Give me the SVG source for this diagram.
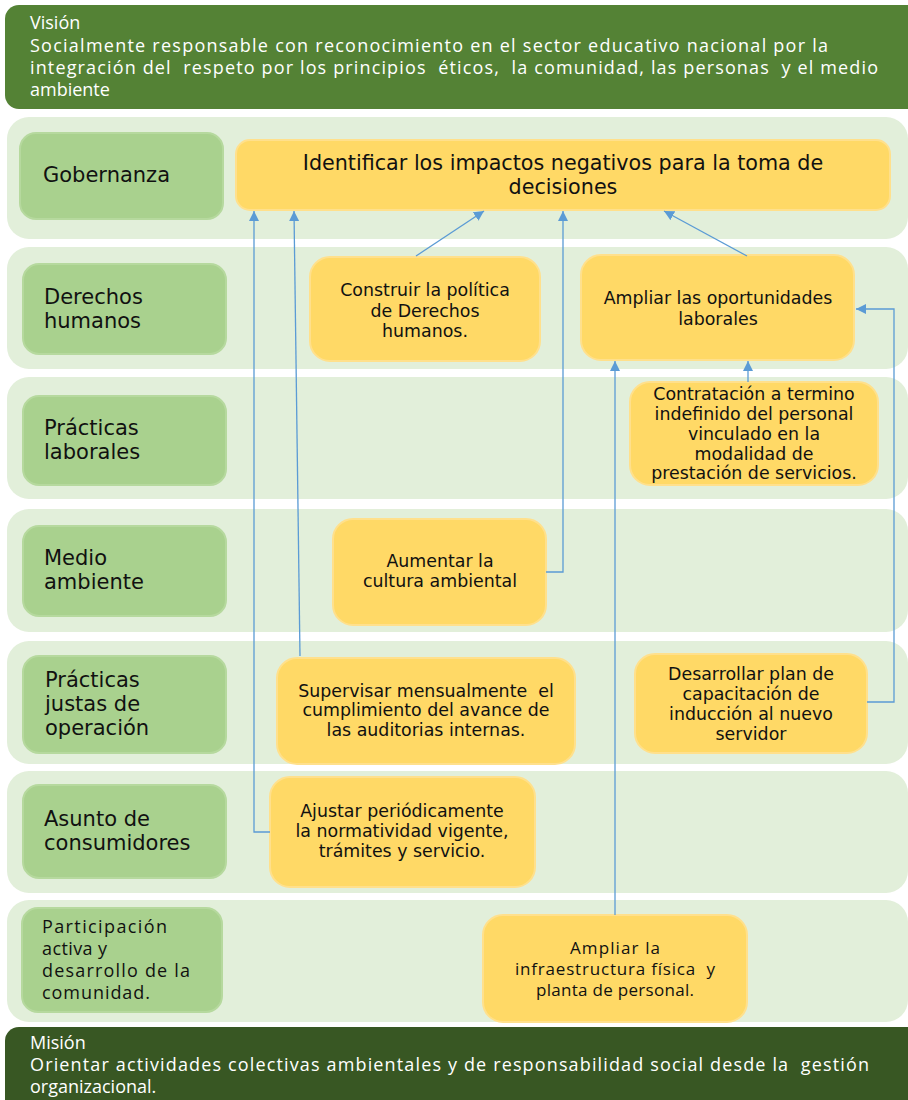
<svg xmlns="http://www.w3.org/2000/svg" width="908" height="1100" viewBox="0 0 908 1100">
<defs>
<style>
.row{fill:#E2EFDA}
.lab{fill:#A9D18E;stroke:#B6D99E;stroke-width:2}
.box{fill:#FFD966;stroke:#FFE08C;stroke-width:2}
.lt{font-family:"DejaVu Sans",Verdana,sans-serif;font-size:21px;fill:#111}
.bt{font-family:"DejaVu Sans",Verdana,sans-serif;font-size:17.4px;fill:#111;text-anchor:middle}
.ct{font-family:"Open Sans","Liberation Sans",sans-serif;font-size:18px;fill:#111}
.ban{font-family:"Open Sans","Liberation Sans",sans-serif;font-size:18px;fill:#fff}
.con{fill:none;stroke:#5B9BD5;stroke-width:1.3}
</style>
<marker id="ah" viewBox="0 0 10 10" refX="10" refY="5" markerUnits="userSpaceOnUse" markerWidth="10" markerHeight="10" orient="auto">
<path d="M0,0 L10,5 L0,10 z" fill="#5B9BD5"/>
</marker>
</defs>
<rect width="908" height="1100" fill="#fff"/>

<g id="vision">
<rect x="5" y="5" width="920" height="104" rx="14" fill="#548235"/>
<text class="ban" x="30" y="29">Visión</text>
<text class="ban" x="30" y="52" textLength="798" xml:space="preserve">Socialmente responsable con reconocimiento en el sector educativo nacional por la</text>
<text class="ban" x="30" y="74" textLength="848" xml:space="preserve">integración del  respeto por los principios  éticos,  la comunidad, las personas  y el medio</text>
<text class="ban" x="30" y="96">ambiente</text>
</g>

<g id="rows">
<rect class="row" x="7" y="117" width="901" height="122" rx="22"/>
<rect class="row" x="7" y="247" width="901" height="122" rx="22"/>
<rect class="row" x="7" y="377" width="901" height="122" rx="22"/>
<rect class="row" x="7" y="509" width="901" height="123" rx="22"/>
<rect class="row" x="7" y="641" width="901" height="123" rx="22"/>
<rect class="row" x="7" y="771" width="901" height="122" rx="22"/>
<rect class="row" x="7" y="900" width="901" height="122" rx="22"/>
</g>

<g id="lab-gobernanza">
<rect class="lab" x="20" y="133" width="203" height="86" rx="16"/>
<text class="lt" x="43" y="182">Gobernanza</text>
</g>
<g id="lab-derechos">
<rect class="lab" x="23" y="264" width="203" height="90" rx="16"/>
<text class="lt" x="44" y="304">Derechos</text>
<text class="lt" x="44" y="328">humanos</text>
</g>
<g id="lab-laborales">
<rect class="lab" x="23" y="396" width="203" height="89" rx="16"/>
<text class="lt" x="44" y="435">Prácticas</text>
<text class="lt" x="44" y="459">laborales</text>
</g>
<g id="lab-ambiente">
<rect class="lab" x="23" y="526" width="203" height="90" rx="16"/>
<text class="lt" x="44" y="565">Medio</text>
<text class="lt" x="44" y="589">ambiente</text>
</g>
<g id="lab-justas">
<rect class="lab" x="23" y="656" width="203" height="97" rx="16"/>
<text class="lt" x="45" y="687">Prácticas</text>
<text class="lt" x="45" y="711">justas de</text>
<text class="lt" x="45" y="735">operación</text>
</g>
<g id="lab-consumidores">
<rect class="lab" x="23" y="785" width="203" height="93" rx="16"/>
<text class="lt" x="44" y="826">Asunto de</text>
<text class="lt" x="44" y="850">consumidores</text>
</g>
<g id="lab-comunidad">
<rect class="lab" x="22" y="908" width="200" height="104" rx="16"/>
<text class="ct" x="42" y="933" textLength="125">Participación</text>
<text class="ct" x="42" y="955" textLength="65">activa y</text>
<text class="ct" x="42" y="977" textLength="148" xml:space="preserve">desarrollo de la</text>
<text class="ct" x="42" y="999" textLength="108">comunidad.</text>
</g>

<g id="n-identificar">
<rect class="box" x="236" y="140" width="654" height="70" rx="14"/>
<text class="bt" x="563" y="170" style="font-size:20.7px">Identificar los impactos negativos para la toma de</text>
<text class="bt" x="563" y="194" style="font-size:20.7px">decisiones</text>
</g>
<g id="n-construir">
<rect class="box" x="310" y="257" width="230" height="104" rx="20"/>
<text class="bt" x="425" y="296">Construir la política</text>
<text class="bt" x="425" y="317">de Derechos</text>
<text class="bt" x="425" y="337">humanos.</text>
</g>
<g id="n-oportunidades">
<rect class="box" x="581" y="255" width="273" height="105" rx="20"/>
<text class="bt" x="718" y="304">Ampliar las oportunidades</text>
<text class="bt" x="718" y="325">laborales</text>
</g>
<g id="n-contratacion">
<rect class="box" x="630" y="382" width="248" height="103" rx="20"/>
<text class="bt" x="754" y="400">Contratación a termino</text>
<text class="bt" x="754" y="420">indefinido del personal</text>
<text class="bt" x="754" y="440">vinculado en la</text>
<text class="bt" x="754" y="460">modalidad de</text>
<text class="bt" x="754" y="479">prestación de servicios.</text>
</g>
<g id="n-aumentar">
<rect class="box" x="333" y="519" width="213" height="106" rx="20"/>
<text class="bt" x="440" y="567">Aumentar la</text>
<text class="bt" x="440" y="587">cultura ambiental</text>
</g>
<g id="n-supervisar">
<rect class="box" x="277" y="658" width="298" height="106" rx="20"/>
<text class="bt" x="426" y="697" xml:space="preserve">Supervisar mensualmente  el</text>
<text class="bt" x="426" y="716">cumplimiento del avance de</text>
<text class="bt" x="426" y="736">las auditorias internas.</text>
</g>
<g id="n-desarrollar">
<rect class="box" x="635" y="654" width="232" height="99" rx="20"/>
<text class="bt" x="751" y="680">Desarrollar plan de</text>
<text class="bt" x="751" y="700">capacitación de</text>
<text class="bt" x="751" y="720">inducción al nuevo</text>
<text class="bt" x="751" y="740">servidor</text>
</g>
<g id="n-ajustar">
<rect class="box" x="270" y="777" width="265" height="110" rx="20"/>
<text class="bt" x="402" y="817">Ajustar periódicamente</text>
<text class="bt" x="402" y="837">la normatividad vigente,</text>
<text class="bt" x="402" y="857">trámites y servicio.</text>
</g>
<g id="n-infraestructura">
<rect class="box" x="483" y="915" width="264" height="107" rx="20"/>
<text class="ct" x="615" y="954" text-anchor="middle" style="font-size:17px" textLength="90">Ampliar la</text>
<text class="ct" x="615" y="975" text-anchor="middle" style="font-size:17px" textLength="200" xml:space="preserve">infraestructura física  y</text>
<text class="ct" x="615" y="996" text-anchor="middle" style="font-size:17px" textLength="158">planta de personal.</text>
</g>

<g id="connectors">
<path class="con" d="M270,832 H254 V211" marker-end="url(#ah)"/>
<path class="con" d="M300,656 L294,211" marker-end="url(#ah)"/>
<path class="con" d="M416,256 L484,211" marker-end="url(#ah)"/>
<path class="con" d="M546,572 H563 V211" marker-end="url(#ah)"/>
<path class="con" d="M747,256 L664,211" marker-end="url(#ah)"/>
<path class="con" d="M748,382 V361" marker-end="url(#ah)"/>
<path class="con" d="M867,702 H894 V309 H856" marker-end="url(#ah)"/>
<path class="con" d="M615,915 V361" marker-end="url(#ah)"/>
</g>

<g id="mision">
<rect x="5" y="1027" width="920" height="100" rx="14" fill="#385723"/>
<text class="ban" x="30" y="1049">Misión</text>
<text class="ban" x="30" y="1071" textLength="839" xml:space="preserve">Orientar actividades colectivas ambientales y de responsabilidad social desde la  gestión</text>
<text class="ban" x="30" y="1093">organizacional.</text>
</g>
</svg>
